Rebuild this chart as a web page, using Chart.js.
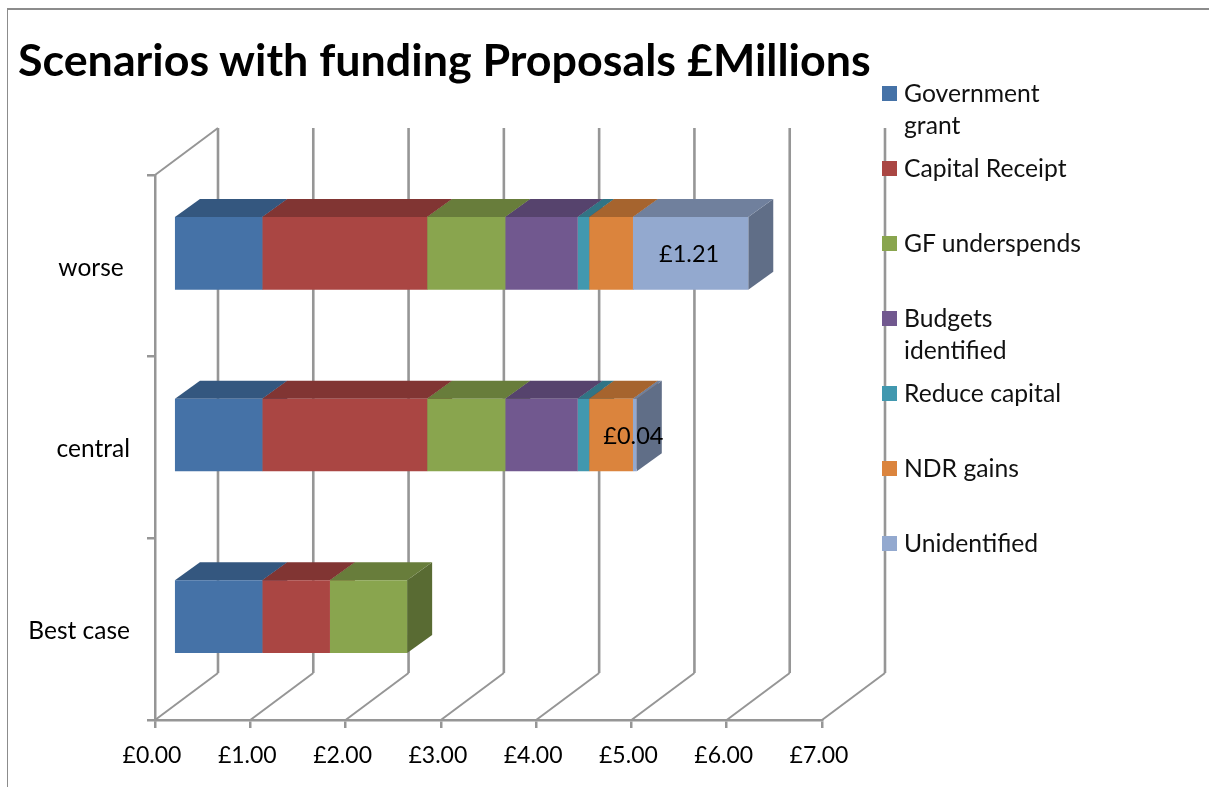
<!DOCTYPE html>
<html>
<head>
<meta charset="utf-8">
<title>Scenarios with funding Proposals</title>
<script src="https://cdn.jsdelivr.net/npm/chart.js@4"></script>
<style>
    html, body { margin: 0; padding: 0; background: #fff; overflow: hidden; }
    #frame { position: absolute; left: 7px; top: 8px; width: 1300px; height: 900px;
             border-top: 2px solid #8c8c8c; border-left: 1px solid #8c8c8c; }
    #ratingWrap { position: absolute; left: 0; top: 0; }
    #chartTitle { position: absolute; left: 18px; top: 32px; margin: 0; white-space: nowrap;
                  font: bold 44.8px/54px Lato, sans-serif; color: #000; }
    #legend { position: absolute; left: 882px; top: 77px; margin: 0; padding: 0; list-style: none;
              font: 24.7px/32px Lato, sans-serif; color: #111; }
    #legend li { position: relative; height: 75px; width: 205px; padding-left: 22px; box-sizing: border-box; }
    #legend i { position: absolute; left: 0; top: 9px; width: 15px; height: 15px; }
</style>
</head>
<body>
<div id="frame"></div>
<div id="ratingWrap"><canvas id="scenarioCanvas" width="1209" height="787"></canvas></div>
<h1 id="chartTitle"></h1>
<ul id="legend"></ul>
<script>
const titleText = "Scenarios with funding Proposals £Millions";
const categories = ["Best case", "central", "worse"];
const seriesNames = ["Government grant", "Capital Receipt", "GF underspends", "Budgets identified",
    "Reduce capital", "NDR gains", "Unidentified"];
const governmentGrant = [0.93, 0.93, 0.93];
const capitalReceipt = [0.71, 1.73, 1.73];
const gfUnderspends = [0.81, 0.82, 0.82];
const budgetsIdentified = [0, 0.76, 0.76];
const reduceCapital = [0, 0.12, 0.12];
const ndrGains = [0, 0.46, 0.46];
const unidentified = [0, 0.04, 1.21];
const seriesValues = [governmentGrant, capitalReceipt, gfUnderspends, budgetsIdentified,
    reduceCapital, ndrGains, unidentified];
const seriesColors = ["#4572a7", "#aa4643", "#89a54e", "#71588f", "#4198af", "#db843d", "#93a9cf"];
const xTicks = { min: 0, max: 7, step: 1 };

const gridColor = "#969696";
const textFont = "Lato";

// Bars sit part way into the box, the box itself runs from the front plane to the back wall
const wallDepth = { x: 63, y: -47 };
const barOffset = { x: 18.7, y: -12.5 };
const barDepth = { x: 25, y: -18 };

function shade(hex, factor) {
    const n = parseInt(hex.slice(1), 16);
    const part = (shift) => Math.round(((n >> shift) & 255) * factor);
    return `rgb(${part(16)},${part(8)},${part(0)})`;
}

function fillPoly(ctx, points, color) {
    ctx.beginPath();
    points.forEach((p, i) => (i ? ctx.lineTo(p[0], p[1]) : ctx.moveTo(p[0], p[1])));
    ctx.closePath();
    ctx.fillStyle = color;
    ctx.fill();
}

function drawWalls(chart) {
    const { ctx, chartArea, scales } = chart;
    const { top, bottom, left } = chartArea;
    ctx.save();
    ctx.strokeStyle = gridColor;
    ctx.lineJoin = "round";
    scales.x.ticks.forEach((tick) => {
        const x = scales.x.getPixelForValue(tick.value);
        ctx.lineWidth = 2.6;
        ctx.beginPath();
        ctx.moveTo(x + wallDepth.x, top + wallDepth.y);
        ctx.lineTo(x + wallDepth.x, bottom + wallDepth.y);
        ctx.stroke();
        ctx.lineWidth = 2;
        ctx.beginPath();
        ctx.moveTo(x + wallDepth.x, bottom + wallDepth.y);
        ctx.lineTo(x, bottom);
        ctx.stroke();
    });
    ctx.lineWidth = 2;
    ctx.beginPath();
    ctx.moveTo(left, top);
    ctx.lineTo(left + wallDepth.x, top + wallDepth.y);
    ctx.stroke();
    ctx.restore();
}

// Top and end faces go down first, the library then paints the front faces over them
function drawBarFaces(chart) {
    const ctx = chart.ctx;
    chart.data.datasets.forEach((dataset, di) => {
        chart.getDatasetMeta(di).data.forEach((bar, i) => {
            if (!dataset.data[i]) return;
            const { x, y, base, height } = bar.getProps(["x", "y", "base", "height"], true);
            const up = y - height / 2;
            const down = y + height / 2;
            const dx = barDepth.x;
            const dy = barDepth.y;
            fillPoly(ctx, [[x, up], [x + dx, up + dy], [x + dx, down + dy], [x, down]],
                shade(dataset.backgroundColor, 0.65));
            fillPoly(ctx, [[base, up], [base + dx, up + dy], [x + dx, up + dy], [x, up]],
                shade(dataset.backgroundColor, 0.76));
        });
    });
}

function drawValueLabels(chart) {
    const ctx = chart.ctx;
    const last = chart.data.datasets.length - 1;
    const dataset = chart.data.datasets[last];
    ctx.save();
    ctx.font = `23.5px ${textFont}`;
    ctx.fillStyle = "#000";
    ctx.textAlign = "center";
    ctx.textBaseline = "middle";
    chart.getDatasetMeta(last).data.forEach((bar, i) => {
        if (!dataset.data[i]) return;
        const { x, y, base } = bar.getProps(["x", "y", "base"], true);
        ctx.fillText("£" + dataset.data[i].toFixed(2), (x + base) / 2 - 1.5, y + 1.5);
    });
    ctx.restore();
}

const depthBars = {
    id: "depthBars",
    beforeDatasetsDraw(chart) {
        drawWalls(chart);
        chart.ctx.save();
        chart.ctx.translate(barOffset.x, barOffset.y);
        drawBarFaces(chart);
    },
    afterDatasetsDraw(chart) {
        drawValueLabels(chart);
        chart.ctx.restore();
    },
};

const ctx = document.getElementById("scenarioCanvas").getContext("2d");
const scenarioChart = new Chart(ctx, {
    type: "bar",
    plugins: [depthBars],
    data: {
        labels: categories,
        datasets: seriesNames.map((name, i) => ({
            label: name,
            data: seriesValues[i],
            backgroundColor: seriesColors[i],
            borderWidth: 0,
            categoryPercentage: 1,
            barPercentage: 0.4,
        })),
    },
    options: {
        indexAxis: "y",
        responsive: false,
        animation: false,
        layout: { padding: { left: 18, right: 387, top: 175, bottom: 0 } },
        plugins: {
            legend: { display: false },
            tooltip: { enabled: false },
        },
        scales: {
            x: {
                type: "linear",
                stacked: true,
                min: xTicks.min,
                max: xTicks.max,
                afterFit(scale) { scale.height = 67; },
                border: { color: gridColor, width: 2.5 },
                grid: { drawOnChartArea: false, color: gridColor, lineWidth: 2.5, tickLength: 8 },
                ticks: {
                    stepSize: xTicks.step,
                    color: "#000",
                    padding: 14,
                    labelOffset: -3,
                    maxRotation: 0,
                    font: { family: textFont, size: 23 },
                    callback: (value) => "£" + value.toFixed(2),
                },
            },
            y: {
                stacked: true,
                reverse: true,
                afterFit(scale) { scale.width = 137; },
                border: { color: gridColor, width: 2.5 },
                grid: { drawOnChartArea: false, color: gridColor, lineWidth: 2.5, tickLength: 8, offset: true },
                ticks: {
                    color: "#000",
                    padding: 17,
                    labelOffset: 2,
                    font: { family: textFont, size: 24.5 },
                    // the top label stands a little further off the axis
                    callback(value) {
                        const label = this.getLabelForValue(value);
                        return label === "worse" ? label + " " : label;
                    },
                },
            },
        },
    },
});

document.getElementById("chartTitle").textContent = titleText;

const legend = document.getElementById("legend");
seriesNames.forEach((name, i) => {
    const item = document.createElement("li");
    const swatch = document.createElement("i");
    swatch.style.background = seriesColors[i];
    item.appendChild(swatch);
    item.appendChild(document.createTextNode(name));
    legend.appendChild(item);
});
</script>
</body>
</html>
